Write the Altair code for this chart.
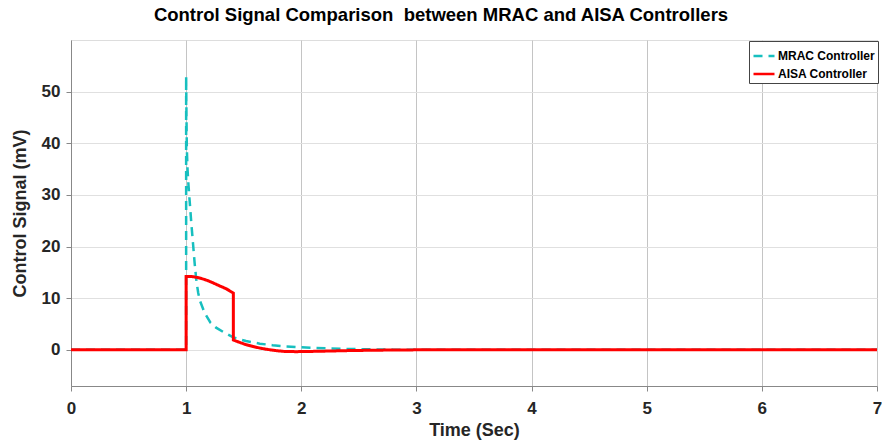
import altair as alt
import pandas as pd

# Control signal of the MRAC controller (mV) against time (s)
mrac_t = [0.0, 1.0, 1.0, 1.003, 1.006, 1.012, 1.02, 1.03, 1.045, 1.06, 1.075, 1.09,
          1.105, 1.12, 1.16, 1.21, 1.26, 1.32, 1.41, 1.52, 1.64, 1.75, 1.87, 1.99,
          2.1, 2.22, 2.35, 2.5, 2.65, 2.8, 3.0, 7.0]
mrac_u = [0.0, 0.0, 53.0, 45.0, 39.0, 35.0, 32.0, 29.0, 24.5, 20.5, 16.5, 13.2,
          11.0, 9.5, 7.2, 5.3, 4.3, 3.5, 2.4, 1.7, 1.2, 0.9, 0.65, 0.5,
          0.38, 0.28, 0.2, 0.13, 0.08, 0.04, 0.01, 0.0]

# Control signal of the AISA controller (mV) against time (s)
aisa_t = [0.0, 1.0, 1.0, 1.05, 1.1, 1.15, 1.2, 1.25, 1.3, 1.35, 1.41, 1.41,
          1.47, 1.52, 1.58, 1.64, 1.7, 1.78, 1.85, 1.95, 2.05, 2.2, 2.4, 2.6,
          2.8, 3.0, 7.0]
aisa_u = [0.0, 0.0, 14.2, 14.2, 14.0, 13.7, 13.3, 12.8, 12.3, 11.8, 11.0, 1.9,
          1.4, 1.0, 0.65, 0.35, 0.1, -0.15, -0.3, -0.35, -0.32, -0.25, -0.15, -0.08,
          -0.03, 0.0, 0.0]

series_names = ["MRAC Controller", "AISA Controller"]
series_colors = ["#17bfbf", "#ff0000"]
series_dash = [[9, 6], [1, 0]]

x_ticks = [0, 1, 2, 3, 4, 5, 6, 7]
y_ticks = [0, 10, 20, 30, 40, 50]

mrac_df = pd.DataFrame({"t": mrac_t, "u": mrac_u, "series": series_names[0],
                        "k": range(len(mrac_t))})
aisa_df = pd.DataFrame({"t": aisa_t, "u": aisa_u, "series": series_names[1],
                        "k": range(len(aisa_t))})

FONT = "Liberation Sans"
INK = "#262626"

x_enc = alt.X("t:Q", scale=alt.Scale(domain=[0, 7], nice=False, zero=False),
              axis=alt.Axis(values=x_ticks, title="Time (Sec)", format="d",
                            gridColor="#c4c4c4", labelPadding=9, titlePadding=5,
                            labelFlush=False,
                            labelFontSize=17, titleFontSize=18,
                            labelFont=FONT, titleFont=FONT,
                            labelFontWeight="bold", titleFontWeight="bold",
                            labelColor=INK, titleColor=INK))
y_enc = alt.Y("u:Q", scale=alt.Scale(domain=[-7, 60], nice=False, zero=False),
              axis=alt.Axis(values=y_ticks, title="Control Signal (mV)", format="d",
                            gridColor="#e0e0e0", labelPadding=6, titlePadding=12,
                            labelFlush=False,
                            labelFontSize=17, titleFontSize=18,
                            labelFont=FONT, titleFont=FONT,
                            labelFontWeight="bold", titleFontWeight="bold",
                            labelColor=INK, titleColor=INK))
color_enc = alt.Color("series:N",
                      scale=alt.Scale(domain=series_names, range=series_colors),
                      legend=alt.Legend(title=None, orient="none", legendX=678, legendY=1,
                                        symbolType="stroke", symbolSize=441,
                                        symbolStrokeWidth=2.5, labelFontSize=12,
                                        labelFontWeight="bold", labelFont=FONT,
                                        labelColor="#000000",
                                        labelOffset=2, rowPadding=0, padding=3,
                                        strokeColor="#444444", fillColor="white",
                                        labelLimit=200))
dash_enc = alt.StrokeDash("series:N",
                          scale=alt.Scale(domain=series_names, range=series_dash),
                          legend=None)

mrac = alt.Chart(mrac_df).mark_line(strokeWidth=2.5).encode(
    x=x_enc, y=y_enc, color=color_enc, strokeDash=dash_enc, order="k:Q")
aisa = alt.Chart(aisa_df).mark_line(strokeWidth=3).encode(
    x=x_enc, y=y_enc, color=color_enc, strokeDash=dash_enc, order="k:Q")

chart = alt.layer(mrac, aisa).properties(
    width=806, height=346,
    autosize=alt.AutoSizeParams(type="none"),
    padding={"left": 71, "top": 40, "right": 5, "bottom": 55},
    title=alt.TitleParams("Control Signal Comparison \u00a0between MRAC and AISA Controllers",
                          anchor="middle", dx=-33, offset=16, fontSize=18.5,
                          font=FONT, fontWeight="bold", color="#000000"),
).configure_axis(
    ticks=False, domain=False, grid=True,
).configure_view(
    stroke="#9a9a9a", strokeWidth=1,
).configure(background="white")

chart.save("out.html", embed_options={"renderer": "svg", "actions": False})
